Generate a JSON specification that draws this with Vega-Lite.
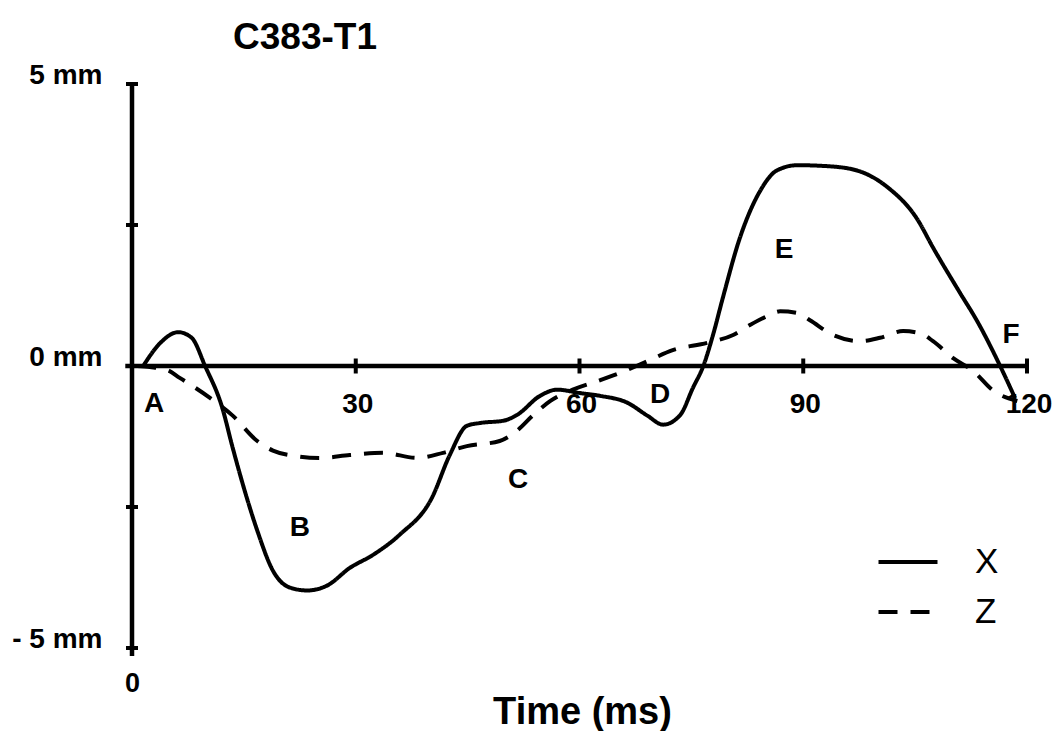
{
  "$schema": "https://vega.github.io/schema/vega-lite/v6.json",
  "width": 895,
  "height": 564,
  "autosize": "none",
  "padding": {"left": 132, "top": 84, "right": 32, "bottom": 83},
  "background": "white",
  "config": {"view": {"stroke": null}, "font": "Liberation Sans"},
  "title": {"text": "C383-T1", "anchor": "start", "frame": "group", "dx": 101, "offset": -25, "fontSize": 37, "fontWeight": "bold", "font": "Liberation Sans", "color": "black", "baseline": "alphabetic"},
  "datasets": {
    "curves": [
      {"series": "X", "t": 1.5, "v": 0}, {"series": "X", "t": 3.8, "v": 0.41}, {"series": "X", "t": 6.2, "v": 0.6}, {"series": "X", "t": 8.0, "v": 0.5},
      {"series": "X", "t": 9.8, "v": 0}, {"series": "X", "t": 12.1, "v": -0.74}, {"series": "X", "t": 13.5, "v": -1.45}, {"series": "X", "t": 15.4, "v": -2.34},
      {"series": "X", "t": 16.8, "v": -2.92}, {"series": "X", "t": 18.9, "v": -3.63}, {"series": "X", "t": 21.2, "v": -3.93}, {"series": "X", "t": 23.5, "v": -3.98},
      {"series": "X", "t": 26.2, "v": -3.89}, {"series": "X", "t": 29.2, "v": -3.58}, {"series": "X", "t": 32.3, "v": -3.35}, {"series": "X", "t": 35.9, "v": -2.99},
      {"series": "X", "t": 40.2, "v": -2.34}, {"series": "X", "t": 42.6, "v": -1.58}, {"series": "X", "t": 44.9, "v": -1.06}, {"series": "X", "t": 46.7, "v": -1.01},
      {"series": "X", "t": 49.8, "v": -0.97}, {"series": "X", "t": 51.6, "v": -0.87}, {"series": "X", "t": 54.7, "v": -0.53}, {"series": "X", "t": 57.0, "v": -0.42},
      {"series": "X", "t": 60.1, "v": -0.48}, {"series": "X", "t": 62.8, "v": -0.53}, {"series": "X", "t": 66.4, "v": -0.65}, {"series": "X", "t": 69.1, "v": -0.88},
      {"series": "X", "t": 71.2, "v": -1.04}, {"series": "X", "t": 73.5, "v": -0.87}, {"series": "X", "t": 75.2, "v": -0.39}, {"series": "X", "t": 76.6, "v": 0},
      {"series": "X", "t": 77.9, "v": 0.55}, {"series": "X", "t": 79.2, "v": 1.2}, {"series": "X", "t": 81.5, "v": 2.27}, {"series": "X", "t": 84.2, "v": 3.1},
      {"series": "X", "t": 86.5, "v": 3.47}, {"series": "X", "t": 89.2, "v": 3.56}, {"series": "X", "t": 93.6, "v": 3.54}, {"series": "X", "t": 97.6, "v": 3.45},
      {"series": "X", "t": 101.2, "v": 3.18}, {"series": "X", "t": 105.3, "v": 2.6}, {"series": "X", "t": 107.4, "v": 2.1}, {"series": "X", "t": 111.0, "v": 1.3},
      {"series": "X", "t": 113.3, "v": 0.8}, {"series": "X", "t": 116.4, "v": 0}, {"series": "X", "t": 118.4, "v": -0.57},
      {"series": "Z", "t": 0.7, "v": 0}, {"series": "Z", "t": 2.4, "v": -0.02}, {"series": "Z", "t": 4.7, "v": -0.07}, {"series": "Z", "t": 6.4, "v": -0.21},
      {"series": "Z", "t": 10.5, "v": -0.57}, {"series": "Z", "t": 13.5, "v": -0.88}, {"series": "Z", "t": 16.8, "v": -1.33}, {"series": "Z", "t": 18.9, "v": -1.5},
      {"series": "Z", "t": 21.6, "v": -1.59}, {"series": "Z", "t": 25.2, "v": -1.63}, {"series": "Z", "t": 29.2, "v": -1.58}, {"series": "Z", "t": 33.7, "v": -1.54},
      {"series": "Z", "t": 38.2, "v": -1.63}, {"series": "Z", "t": 41.7, "v": -1.54}, {"series": "Z", "t": 44.9, "v": -1.42}, {"series": "Z", "t": 49.3, "v": -1.33},
      {"series": "Z", "t": 51.6, "v": -1.15}, {"series": "Z", "t": 53.8, "v": -0.87}, {"series": "Z", "t": 56.1, "v": -0.62}, {"series": "Z", "t": 59.1, "v": -0.42},
      {"series": "Z", "t": 62.8, "v": -0.25}, {"series": "Z", "t": 66.4, "v": -0.07}, {"series": "Z", "t": 69.5, "v": 0.11}, {"series": "Z", "t": 72.5, "v": 0.28},
      {"series": "Z", "t": 77.1, "v": 0.41}, {"series": "Z", "t": 80.6, "v": 0.55}, {"series": "Z", "t": 82.9, "v": 0.73}, {"series": "Z", "t": 85.1, "v": 0.88},
      {"series": "Z", "t": 86.9, "v": 0.97}, {"series": "Z", "t": 89.2, "v": 0.94}, {"series": "Z", "t": 90.9, "v": 0.81}, {"series": "Z", "t": 94.0, "v": 0.55},
      {"series": "Z", "t": 97.6, "v": 0.44}, {"series": "Z", "t": 100.3, "v": 0.5}, {"series": "Z", "t": 103.4, "v": 0.62}, {"series": "Z", "t": 105.7, "v": 0.58},
      {"series": "Z", "t": 107.4, "v": 0.44}, {"series": "Z", "t": 110.1, "v": 0.14}, {"series": "Z", "t": 112.8, "v": -0.09}, {"series": "Z", "t": 115.5, "v": -0.44},
      {"series": "Z", "t": 118.7, "v": -0.62}
    ],
    "xticks": [{"t": 30}, {"t": 60}, {"t": 90}, {"t": 120}],
    "yticks": [{"v": -5}, {"v": -2.5}, {"v": 2.5}, {"v": 5}],
    "points": [
      {"label": "A", "t": 2.95, "v": -0.6},
      {"label": "B", "t": 22.5, "v": -2.8},
      {"label": "C", "t": 51.76, "v": -1.95},
      {"label": "D", "t": 70.8, "v": -0.44},
      {"label": "E", "t": 87.42, "v": 2.12},
      {"label": "F", "t": 117.86, "v": 0.62}
    ]
  },
  "layer": [
    {
      "data": {"values": [{}]},
      "mark": {"type": "rule", "strokeWidth": 4.5, "color": "black"},
      "encoding": {
        "x": {"datum": -0.9, "type": "quantitative", "scale": {"domain": [0, 120], "nice": false, "zero": false}},
        "x2": {"datum": 120},
        "y": {"datum": 0, "type": "quantitative", "scale": {"domain": [-5, 5], "nice": false, "zero": false}}
      }
    },
    {
      "data": {"values": [{}]},
      "mark": {"type": "rule", "strokeWidth": 4.5, "color": "black"},
      "encoding": {
        "x": {"datum": 0, "type": "quantitative", "scale": {"domain": [0, 120], "nice": false, "zero": false}},
        "y": {"datum": -5.14, "type": "quantitative", "scale": {"domain": [-5, 5], "nice": false, "zero": false}},
        "y2": {"datum": 5}
      }
    },
    {
      "data": {"name": "xticks"},
      "mark": {"type": "tick", "orient": "vertical", "size": 15, "thickness": 4, "color": "black", "opacity": 1},
      "encoding": {
        "x": {"field": "t", "type": "quantitative", "scale": {"domain": [0, 120], "nice": false, "zero": false}},
        "y": {"datum": 0, "type": "quantitative", "scale": {"domain": [-5, 5], "nice": false, "zero": false}}
      }
    },
    {
      "data": {"name": "yticks"},
      "mark": {"type": "tick", "orient": "horizontal", "size": 12, "thickness": 4, "color": "black", "opacity": 1},
      "encoding": {
        "x": {"datum": 0, "type": "quantitative", "scale": {"domain": [0, 120], "nice": false, "zero": false}},
        "y": {"field": "v", "type": "quantitative", "scale": {"domain": [-5, 5], "nice": false, "zero": false}}
      }
    },
    {
      "data": {"name": "xticks"},
      "mark": {"type": "text", "fontSize": 28, "fontWeight": "bold", "font": "Liberation Sans", "color": "black", "baseline": "middle", "align": "center", "dy": 39, "dx": 2},
      "encoding": {
        "x": {"field": "t", "type": "quantitative", "scale": {"domain": [0, 120], "nice": false, "zero": false}},
        "y": {"datum": 0, "type": "quantitative", "scale": {"domain": [-5, 5], "nice": false, "zero": false}},
        "text": {"field": "t", "type": "quantitative"}
      }
    },
    {
      "data": {"name": "points"},
      "mark": {"type": "text", "fontSize": 28, "fontWeight": "bold", "font": "Liberation Sans", "color": "black", "baseline": "middle", "align": "center", "dy": 4},
      "encoding": {
        "x": {"field": "t", "type": "quantitative", "scale": {"domain": [0, 120], "nice": false, "zero": false}},
        "y": {"field": "v", "type": "quantitative", "scale": {"domain": [-5, 5], "nice": false, "zero": false}},
        "text": {"field": "label", "type": "nominal"}
      }
    },
    {
      "data": {"name": "curves"},
      "mark": {"type": "line", "strokeWidth": 4, "color": "black", "interpolate": "monotone"},
      "encoding": {
        "x": {
          "field": "t", "type": "quantitative",
          "scale": {"domain": [0, 120], "nice": false, "zero": false},
          "axis": {"orient": "bottom", "values": [0], "domain": false, "ticks": false, "tickSize": 0, "grid": false,
                   "labelFontSize": 27, "labelFontWeight": "bold", "labelFont": "Liberation Sans", "labelColor": "black",
                   "labelBaseline": "alphabetic", "labelPadding": 43, "labelFlush": false,
                   "title": "Time (ms)", "titleFontSize": 38, "titleFontWeight": "bold", "titleFont": "Liberation Sans", "titleColor": "black",
                   "titleX": 450, "titleY": 75, "titleAlign": "center", "titleBaseline": "alphabetic", "titleAnchor": "start"}
        },
        "y": {
          "field": "v", "type": "quantitative",
          "scale": {"domain": [-5, 5], "nice": false, "zero": false},
          "axis": {"orient": "left", "values": [-5, 0, 5], "domain": false, "ticks": false, "tickSize": 0, "grid": false, "title": null,
                   "labelExpr": "datum.value == 0 ? '0 mm' : (datum.value > 0 ? '5 mm' : '- 5 mm')",
                   "labelFontSize": 28, "labelFontWeight": "bold", "labelFont": "Liberation Sans", "labelColor": "black",
                   "labelPadding": 30, "labelOffset": -9, "labelBaseline": "middle", "labelFlush": false, "labelOverlap": false}
        },
        "strokeDash": {
          "field": "series", "type": "nominal",
          "scale": {"domain": ["X", "Z"], "range": [[1, 0], [19, 13]]},
          "legend": {"title": null, "orient": "none", "legendX": 744.5, "legendY": 446.5, "padding": 0,
                     "symbolType": "stroke", "symbolSize": 3481, "symbolStrokeWidth": 4, "symbolStrokeColor": "black",
                     "labelFontSize": 35, "labelFont": "Liberation Sans", "labelColor": "black", "labelOffset": 35.5,
                     "rowPadding": -19, "labelBaseline": "middle"}
        }
      }
    }
  ]
}
